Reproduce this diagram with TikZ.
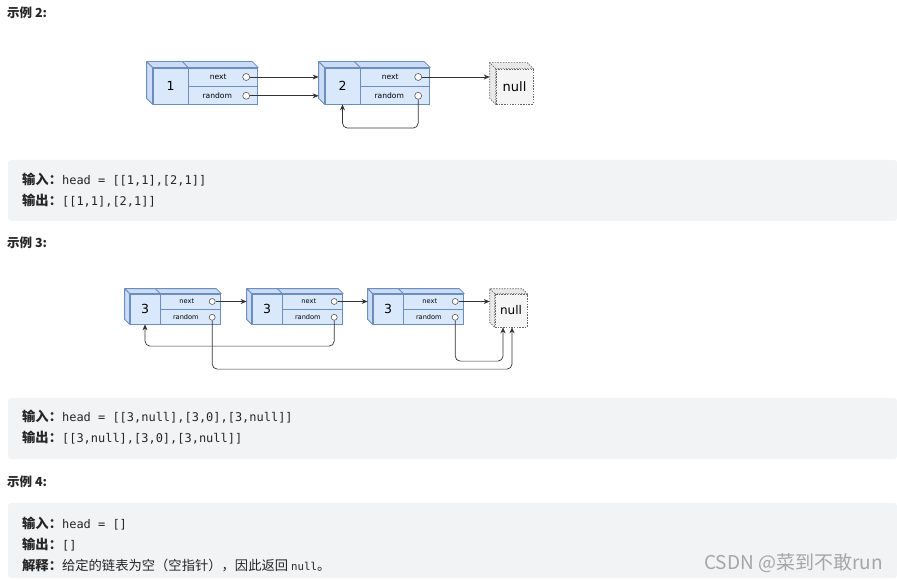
\documentclass[tikz,border=0pt]{standalone}
\usepackage{fontspec}
\setmainfont{Noto Sans CJK SC}
\setmonofont[Scale=0.9]{DejaVu Sans Mono}
\newfontfamily\labfont{DejaVu Sans}
\usetikzlibrary{arrows.meta,positioning,calc}

\definecolor{boxfill}{HTML}{DAE8FC}
\definecolor{boxline}{HTML}{6C8EBF}
\definecolor{boxside}{HTML}{CCDCF4}
\definecolor{nullfill}{HTML}{F5F5F5}
\definecolor{nullline}{HTML}{666666}
\definecolor{nullside}{HTML}{E8E8E8}
\definecolor{panelgray}{HTML}{F2F3F5}
\definecolor{txt}{HTML}{262626}
\definecolor{wmark}{HTML}{A6A6A6}

\begin{document}
\begin{tikzpicture}[
    x=1pt, y=-1pt,
    valbox/.style={rectangle, draw=boxline, fill=boxfill, line width=0.8pt, inner sep=0pt, minimum width=35, minimum height=36, font=\labfont\fontsize{12.5}{14}\selectfont},
    ptrbox/.style={rectangle, draw=boxline, fill=boxfill, line width=0.8pt, inner sep=0pt, minimum width=69, minimum height=18},
    tag/.style={font=\labfont\fontsize{7.6}{9}\selectfont, inner sep=0pt},
    hole/.style={circle, draw=black!65, fill=white, line width=0.6pt, inner sep=0pt, minimum size=7},
    face/.style={draw=boxline, fill=boxside, line width=0.8pt, line join=round},
    nullbox/.style={rectangle, draw=nullline, fill=nullfill, dash pattern=on 1.5pt off 1.2pt, line width=0.6pt, inner sep=0pt, minimum width=37, minimum height=35, font=\labfont\fontsize{13}{15}\selectfont},
    nullface/.style={draw=nullline, fill=nullside, dash pattern=on 1.5pt off 1.2pt, line width=0.6pt},
    link/.style={-{Stealth[length=6pt, width=5pt]}, line width=0.7pt, draw=black!80, rounded corners=5},
    hdr/.style={anchor=west, inner sep=0pt, font=\bfseries\fontsize{12.5}{15}\selectfont, text=txt},
    codeline/.style={anchor=west, inner sep=0pt, font=\fontsize{13.3}{16}\selectfont, text=txt},
    panel/.style={fill=panelgray, rounded corners=3}
]
\useasboundingbox (0,0) rectangle (897,580);

% Example 2
\node[hdr] (hdr2) at (7,13) {示例 2:};

\node[valbox] (a1) at (170.5,86) {1};
\node[ptrbox, anchor=north west, label={[tag, xshift=-5]center:next}] (a1n) at (a1.north east) {};
\node[ptrbox, anchor=north west, label={[tag, xshift=-6]center:random}] (a1r) at (a1n.south west) {};
\node[hole] (a1no) at ([xshift=-12]a1n.east) {};
\node[hole] (a1ro) at ([xshift=-12]a1r.east) {};

\node[valbox] (a2) at (342.5,86) {2};
\node[ptrbox, anchor=north west, label={[tag, xshift=-5]center:next}] (a2n) at (a2.north east) {};
\node[ptrbox, anchor=north west, label={[tag, xshift=-6]center:random}] (a2r) at (a2n.south west) {};
\node[hole] (a2no) at ([xshift=-12]a2n.east) {};
\node[hole] (a2ro) at ([xshift=-12]a2r.east) {};

\node[nullbox] (anull) at (514.5,86.5) {null};

% 3D faces
\foreach \val/\nxt in {a1/a1n, a2/a2n} {
  \draw[face] (\val.north west) -- ++(-6,-6) -- ($(\nxt.north east)+(-6,-6)$) -- (\nxt.north east) -- cycle;
  \draw[face] (\val.north west) -- ++(-6,-6) -- ($(\val.south west)+(-6,-6)$) -- (\val.south west) -- cycle;
  \draw[boxline, line width=0.8pt] (\val.north east) -- ++(-6,-6);
}
\draw[nullface] (anull.north west) -- ++(-6,-6) -- ($(anull.north east)+(-6,-6)$) -- (anull.north east) -- cycle;
\draw[nullface] (anull.north west) -- ++(-6,-6) -- ($(anull.south west)+(-6,-6)$) -- (anull.south west) -- cycle;

\coordinate (a2s) at ([xshift=-6]a2.west);
\coordinate (anulls) at ([xshift=-6]anull.west);

\draw[link] (a1no.east) -- (a1no.east -| a2s);
\draw[link] (a1ro.east) -- (a1ro.east -| a2s);
\draw[link] (a2no.east) -- (a2no.east -| anulls);
\draw[link] (a2ro.south) -- ++(0,28.5) -| (a2.south);

\fill[panel] (8,160) rectangle (897,221);
\node[codeline] (in2) at (22,180) {{\bfseries 输入：}\texttt{head = [[1,1],[2,1]]}};
\node[codeline] (out2) at (22,201) {{\bfseries 输出：}\texttt{[[1,1],[2,1]]}};

% Example 3
\node[hdr] (hdr3) at (7,243) {示例 3:};

\begin{scope}[
    valbox/.append style={minimum width=30, minimum height=30},
    ptrbox/.append style={minimum width=60, minimum height=15},
    tag/.append style={font=\labfont\fontsize{6.6}{8}\selectfont},
    hole/.append style={minimum size=6},
    nullbox/.append style={minimum width=32, minimum height=33, font=\labfont\fontsize{12}{14}\selectfont}
]
\node[valbox] (b1) at (145,309) {3};
\node[ptrbox, anchor=north west, label={[tag, xshift=-4]center:next}] (b1n) at (b1.north east) {};
\node[ptrbox, anchor=north west, label={[tag, xshift=-5]center:random}] (b1r) at (b1n.south west) {};
\node[hole] (b1no) at ([xshift=-9]b1n.east) {};
\node[hole] (b1ro) at ([xshift=-9]b1r.east) {};

\node[valbox] (b2) at (267,309) {3};
\node[ptrbox, anchor=north west, label={[tag, xshift=-4]center:next}] (b2n) at (b2.north east) {};
\node[ptrbox, anchor=north west, label={[tag, xshift=-5]center:random}] (b2r) at (b2n.south west) {};
\node[hole] (b2no) at ([xshift=-9]b2n.east) {};
\node[hole] (b2ro) at ([xshift=-9]b2r.east) {};

\node[valbox] (b3) at (388,309) {3};
\node[ptrbox, anchor=north west, label={[tag, xshift=-4]center:next}] (b3n) at (b3.north east) {};
\node[ptrbox, anchor=north west, label={[tag, xshift=-5]center:random}] (b3r) at (b3n.south west) {};
\node[hole] (b3no) at ([xshift=-9]b3n.east) {};
\node[hole] (b3ro) at ([xshift=-9]b3r.east) {};

\node[nullbox] (bnull) at (511,310.5) {null};
\end{scope}

\foreach \val/\nxt in {b1/b1n, b2/b2n, b3/b3n} {
  \draw[face] (\val.north west) -- ++(-5,-5) -- ($(\nxt.north east)+(-5,-5)$) -- (\nxt.north east) -- cycle;
  \draw[face] (\val.north west) -- ++(-5,-5) -- ($(\val.south west)+(-5,-5)$) -- (\val.south west) -- cycle;
  \draw[boxline, line width=0.8pt] (\val.north east) -- ++(-5,-5);
}
\draw[nullface] (bnull.north west) -- ++(-5,-5) -- ($(bnull.north east)+(-5,-5)$) -- (bnull.north east) -- cycle;
\draw[nullface] (bnull.north west) -- ++(-5,-5) -- ($(bnull.south west)+(-5,-5)$) -- (bnull.south west) -- cycle;

\coordinate (b2s) at ([xshift=-5]b2.west);
\coordinate (b3s) at ([xshift=-5]b3.west);
\coordinate (bnulls) at ([xshift=-5]bnull.west);

\draw[link] (b1no.east) -- (b1no.east -| b2s);
\draw[link] (b2no.east) -- (b2no.east -| b3s);
\draw[link] (b3no.east) -- (b3no.east -| bnulls);
\draw[link] (b2ro.south) -- ++(0,25.5) -| (b1.south);
\draw[link] (b3ro.south) -- ++(0,40.5) -| ([xshift=-8]bnull.south);
\draw[link] (b1ro.south) -- ++(0,48.5) -| ([xshift=1]bnull.south);

\fill[panel] (8,398) rectangle (897,459);
\node[codeline] (in3) at (22,417) {{\bfseries 输入：}\texttt{head = [[3,null],[3,0],[3,null]]}};
\node[codeline] (out3) at (22,438) {{\bfseries 输出：}\texttt{[[3,null],[3,0],[3,null]]}};

% Example 4
\node[hdr] (hdr4) at (7,482) {示例 4:};

\fill[panel] (8,503) rectangle (897,578);
\node[codeline] (in4) at (22,524) {{\bfseries 输入：}\texttt{head = []}};
\node[codeline] (out4) at (22,545) {{\bfseries 输出：}\texttt{[]}};
\node[codeline] (note4) at (22,566) {{\bfseries 解释：}给定的链表为空（空指针），因此返回 {\ttfamily\fontsize{12}{14}\selectfont null}。};

\node[anchor=east, inner sep=0pt, text=wmark, font=\fontsize{19}{22}\selectfont] (wm) at (883,563) {CSDN @菜到不敢run};

\end{tikzpicture}
\end{document}
